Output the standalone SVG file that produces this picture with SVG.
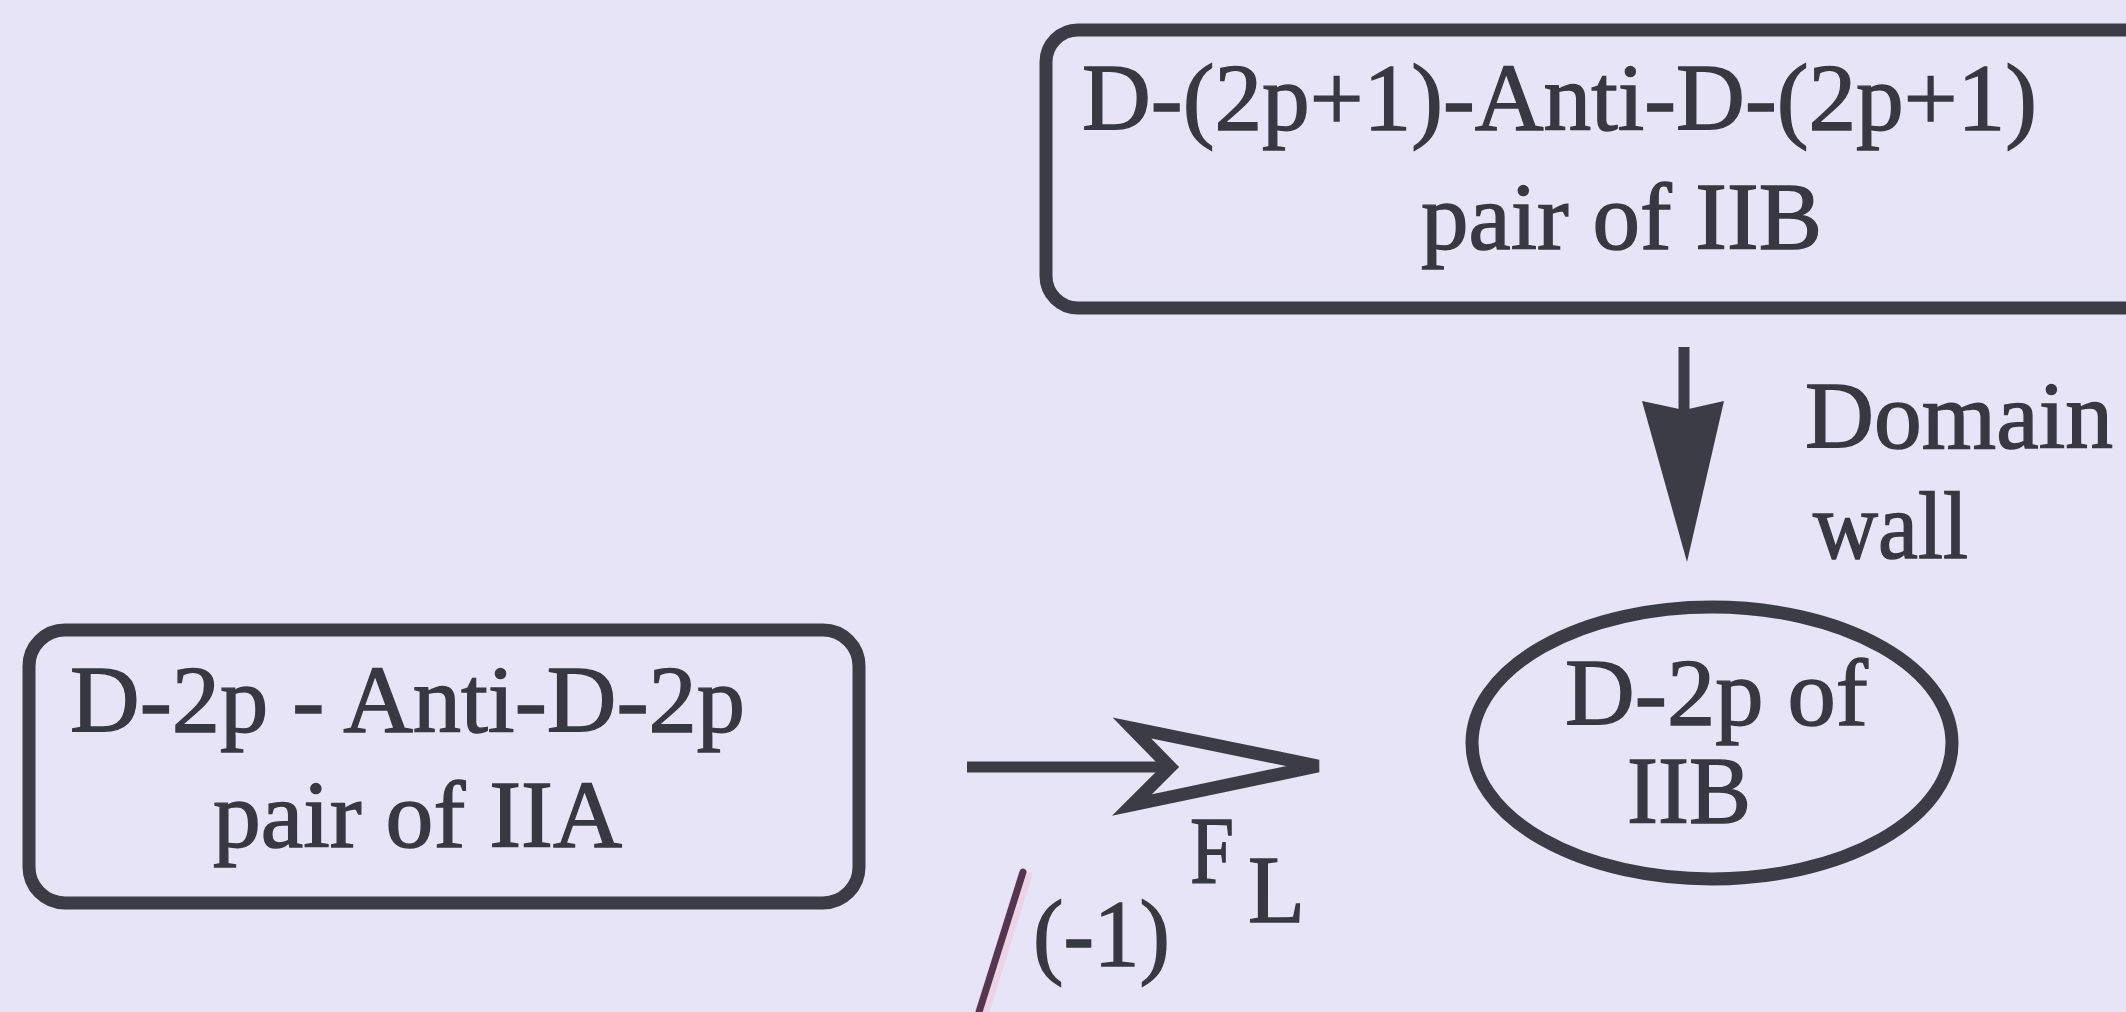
<svg xmlns="http://www.w3.org/2000/svg" width="2126" height="1012" viewBox="0 0 2126 1012">
  <style>
    .bg { fill: #e6e4f6; }
    .box { fill: none; stroke: #3c3c46; stroke-width: 13; }
    .t { font-family: "Liberation Serif", "Times New Roman", serif; font-size: 95px; fill: #383842; stroke: #383842; stroke-width: 1.4; }
    .line { stroke: #3c3c46; stroke-width: 11; fill: none; stroke-linecap: butt; }
  </style>
  <rect class="bg" x="0" y="0" width="2126" height="1012"/>

  <g id="node-iib-pair">
    <rect class="box" x="1046" y="30" width="1120" height="278" rx="32" ry="32"/>
    <text class="t" x="1082" y="130" textLength="955" lengthAdjust="spacingAndGlyphs">D-(2p+1)-Anti-D-(2p+1)</text>
    <text class="t" x="1421" y="249" textLength="401" lengthAdjust="spacingAndGlyphs">pair of IIB</text>
  </g>

  <g id="node-iia-pair">
    <rect class="box" x="29" y="630" width="830" height="273" rx="36" ry="36"/>
    <text class="t" x="70" y="732" textLength="675" lengthAdjust="spacingAndGlyphs">D-2p - Anti-D-2p</text>
    <text class="t" x="213" y="847" textLength="409" lengthAdjust="spacingAndGlyphs">pair of IIA</text>
  </g>

  <g id="node-d2p-iib">
    <ellipse class="box" cx="1712" cy="743" rx="240" ry="136"/>
    <text class="t" x="1565" y="725" textLength="303" lengthAdjust="spacingAndGlyphs">D-2p of</text>
    <text class="t" x="1627" y="823" textLength="124" lengthAdjust="spacingAndGlyphs">IIB</text>
  </g>

  <g id="connectors">
    <g id="edge-domain-wall">
      <line class="line" x1="1684" y1="347" x2="1684" y2="412"/>
      <polygon points="1642,401 1684,410 1724,401 1687,562" fill="#3c3c46"/>
      <text class="t" x="1805" y="448" textLength="308" lengthAdjust="spacingAndGlyphs">Domain</text>
      <text class="t" x="1813" y="558" textLength="155" lengthAdjust="spacingAndGlyphs">wall</text>
    </g>
    <g id="edge-orbifold">
      <line class="line" x1="967" y1="767" x2="1172" y2="767"/>
      <polygon points="1132,728 1318,766 1132,805 1170,767" fill="#e6e4f6" stroke="#3c3c46" stroke-width="13" stroke-linejoin="miter"/>
      <line x1="1026" y1="872" x2="982" y2="1012" stroke="#f0c8dc" stroke-width="14" opacity="0.6"/>
      <line x1="1023" y1="872" x2="979" y2="1012" stroke="#55354f" stroke-width="7" stroke-linecap="round"/>
      <text class="t" x="1033" y="966" font-size="92" textLength="137" lengthAdjust="spacingAndGlyphs">(-1)</text>
      <text class="t" x="1190" y="883" font-size="88" textLength="44" lengthAdjust="spacingAndGlyphs">F</text>
      <text class="t" x="1248" y="922" font-size="88" textLength="57" lengthAdjust="spacingAndGlyphs">L</text>
    </g>
  </g>
</svg>
